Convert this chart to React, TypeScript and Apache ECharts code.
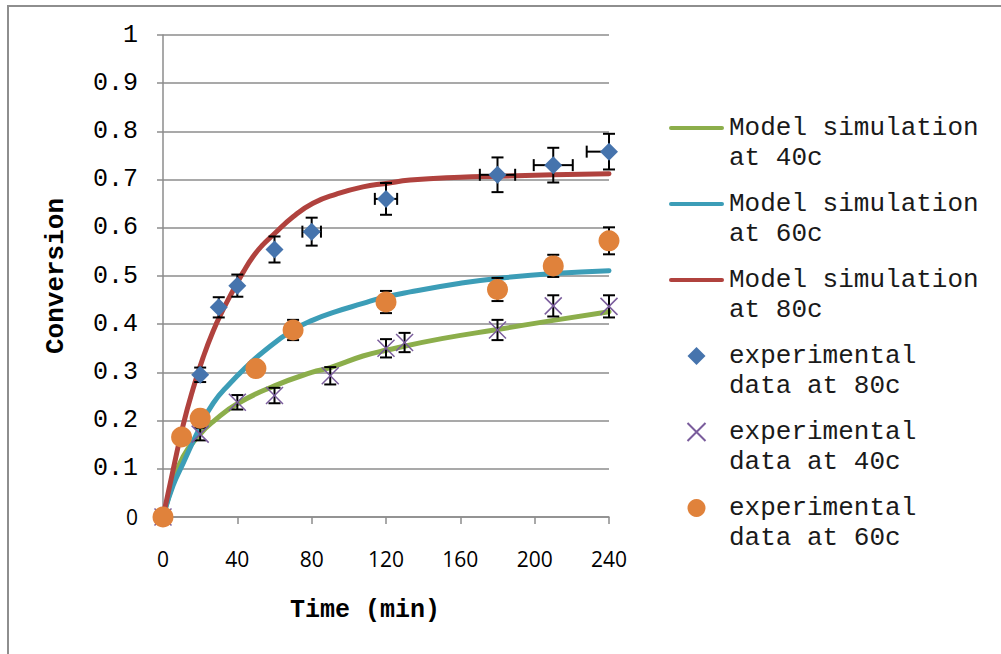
import React, { useEffect, useRef } from "react";
import * as echarts from "echarts";

// ---- Model curves ----
const modelT40 = [0, 5.4, 10.8, 20, 27, 40, 60, 80, 90, 107.6, 120, 150, 180, 210, 240];
const modelY40 = [0, 0.07, 0.125, 0.172, 0.198, 0.235, 0.272, 0.3, 0.31, 0.334, 0.346, 0.37, 0.389, 0.408, 0.426];

const modelT60 = [0, 5.4, 10.8, 20, 27, 36, 45, 54, 70, 81, 93, 107.6, 117, 133, 160, 180, 210, 240];
const modelY60 = [0, 0.065, 0.111, 0.187, 0.236, 0.277, 0.312, 0.343, 0.388, 0.409, 0.426, 0.443, 0.454, 0.467, 0.485, 0.495, 0.505, 0.511];

const modelT80 = [0, 5.4, 10.8, 16.1, 21.5, 26.9, 32.3, 37.7, 43, 48.4, 53.8, 59.2, 70, 80.7, 93.3, 107.6, 120, 133, 160, 180, 210, 240];
const modelY80 = [0, 0.097, 0.19, 0.265, 0.33, 0.385, 0.43, 0.47, 0.507, 0.54, 0.565, 0.585, 0.623, 0.651, 0.67, 0.685, 0.692, 0.699, 0.705, 0.707, 0.71, 0.712];

// ---- Experimental data ----
const expT80 = [0, 20, 30, 40, 60, 80, 120, 180, 210, 240];
const expY80 = [0, 0.295, 0.435, 0.48, 0.555, 0.592, 0.66, 0.71, 0.73, 0.758];
const errY80 = [0, 0.015, 0.021, 0.023, 0.027, 0.029, 0.033, 0.036, 0.036, 0.037];
const errXL80 = [0, 0, 0, 0, 0, 5, 6, 9.5, 10.5, 12];
const errXR80 = [0, 0, 0, 0, 0, 5, 6, 9.5, 10.5, 0];

const expT40 = [0, 20, 40, 60, 90, 120, 130, 180, 210, 240];
const expY40 = [0, 0.172, 0.238, 0.252, 0.293, 0.35, 0.362, 0.388, 0.438, 0.437];
const errY40 = [0, 0.013, 0.015, 0.016, 0.018, 0.019, 0.02, 0.021, 0.022, 0.023];

const expT60 = [0, 10, 20, 50, 70, 120, 180, 210, 240];
const expY60 = [0, 0.166, 0.205, 0.308, 0.388, 0.446, 0.472, 0.521, 0.573];
const errY60 = [0, 0.01, 0.012, 0.015, 0.021, 0.023, 0.024, 0.023, 0.028];

const yTicks = { min: 0, max: 1, interval: 0.1 };
const xTicks = { min: 0, max: 240, interval: 40 };

const names = [
  "Model simulation\nat 40c",
  "Model simulation\nat 60c",
  "Model simulation\nat 80c",
  "experimental\ndata at 80c",
  "experimental\ndata at 40c",
  "experimental\ndata at 60c",
];

const C_GREEN = "#8cae4b";
const C_BLUE = "#3c9db7";
const C_RED = "#b0423e";
const C_DIAMOND = "#4674ad";
const C_ORANGE = "#e0823b";
const C_PURPLE = "#7a5c9c";

const LINE_ICON = "path://M2,0L53,0A2,2 0 0 1 53,4L2,4A2,2 0 0 1 2,0Z";
const DIAMOND_ICON = "path://M5,0L10,5L5,10L0,5Z";
const X_SYMBOL = "path://M0,0L10,10M10,0L0,10";

const zip = (a: number[], b: number[]) => a.map((v, i) => [v, b[i]]);

const errData = (t: number[], y: number[], ey: number[], xl?: number[], xr?: number[]) =>
  t.map((v, i) => [v, y[i], ey[i], xl ? xl[i] : 0, xr ? xr[i] : 0]);

const renderErr = (params: any, api: any) => {
  const x = api.value(0);
  const y = api.value(1);
  const ye = api.value(2);
  const xl = api.value(3);
  const xr = api.value(4);
  const cap = 6;
  const style = { stroke: "#000", lineWidth: 2 };
  const children: any[] = [];
  const c = api.coord([x, y]);
  if (ye > 0) {
    const top = api.coord([x, y + ye]);
    const bot = api.coord([x, y - ye]);
    children.push({ type: "line", shape: { x1: top[0], y1: top[1], x2: bot[0], y2: bot[1] }, style });
    children.push({ type: "line", shape: { x1: top[0] - cap, y1: top[1], x2: top[0] + cap, y2: top[1] }, style });
    children.push({ type: "line", shape: { x1: bot[0] - cap, y1: bot[1], x2: bot[0] + cap, y2: bot[1] }, style });
  }
  if (xl > 0) {
    const l = api.coord([x - xl, y]);
    children.push({ type: "line", shape: { x1: l[0], y1: l[1], x2: c[0], y2: c[1] }, style });
    children.push({ type: "line", shape: { x1: l[0], y1: l[1] - cap, x2: l[0], y2: l[1] + cap }, style });
  }
  if (xr > 0) {
    const r = api.coord([x + xr, y]);
    children.push({ type: "line", shape: { x1: c[0], y1: c[1], x2: r[0], y2: r[1] }, style });
    children.push({ type: "line", shape: { x1: r[0], y1: r[1] - cap, x2: r[0], y2: r[1] + cap }, style });
  }
  return { type: "group", children };
};

const monoFont = "'Liberation Mono', 'DejaVu Sans Mono', monospace";

export default function App() {
  const ref = useRef<HTMLDivElement>(null);
  useEffect(() => {
    if (!ref.current) return;
    const chart = echarts.init(ref.current, undefined, { renderer: "svg" });
    const lineSeries = (name: string, t: number[], y: number[], color: string) => ({
      name,
      type: "line",
      data: zip(t, y),
      smooth: 0.5,
      symbol: "none",
      showSymbol: false,
      lineStyle: { color, width: 5, cap: "round", join: "round" },
      itemStyle: { color },
      z: 2,
    });
    const errSeries = (data: any[]) => ({
      type: "custom",
      renderItem: renderErr,
      data,
      encode: { x: 0, y: 1 },
      z: 3,
      silent: true,
    });
    chart.setOption({
      animation: false,
      grid: { left: 163, right: 392, top: 35, bottom: 137 },
      xAxis: {
        type: "value",
        min: xTicks.min,
        max: xTicks.max,
        interval: xTicks.interval,
        axisLine: { show: true, lineStyle: { color: "#8c8c8c", width: 1.5 } },
        axisTick: { show: true, inside: false, length: 7, lineStyle: { color: "#8c8c8c", width: 1.5 } },
        splitLine: { show: false },
        axisLabel: { fontFamily: "'Open Sans', sans-serif", fontSize: 21, color: "#000", margin: 31 },
      },
      yAxis: {
        type: "value",
        min: yTicks.min,
        max: yTicks.max,
        interval: yTicks.interval,
        axisLine: { show: true, lineStyle: { color: "#8c8c8c", width: 1.5 } },
        axisTick: { show: true, inside: false, length: 6, lineStyle: { color: "#8c8c8c", width: 1.5 } },
        splitLine: { show: true, lineStyle: { color: "#8c8c8c", width: 1.5 } },
        axisLabel: {
          fontFamily: monoFont,
          fontSize: 25,
          color: "#000",
          margin: 25,
          formatter: (v: number) => (v === 0 ? "{s|0}" : String(Math.round(v * 10) / 10)),
          rich: { s: { fontFamily: "'Open Sans', sans-serif", fontSize: 21, color: "#000" } },
        },
      },
      legend: {
        orient: "vertical",
        left: 664,
        top: 78,
        itemWidth: 55,
        itemHeight: 18,
        itemGap: -14,
        selectedMode: false,
        symbolKeepAspect: true,
        formatter: (name: string) => "\n" + name,
        data: [
          { name: names[0], icon: LINE_ICON, itemStyle: { color: C_GREEN } },
          { name: names[1], icon: LINE_ICON, itemStyle: { color: C_BLUE } },
          { name: names[2], icon: LINE_ICON, itemStyle: { color: C_RED } },
          { name: names[3], icon: DIAMOND_ICON, itemStyle: { color: C_DIAMOND } },
          { name: names[4] },
          { name: names[5], icon: "circle" },
        ],
        textStyle: {
          fontFamily: monoFont,
          fontSize: 26,
          lineHeight: 30,
          color: "#1a1a1a",
        },
      },
      graphic: [
        {
          type: "rect",
          shape: { x: 8, y: 6, width: 1000, height: 660 },
          style: { fill: "none", stroke: "#8e8e8e", lineWidth: 2 },
          silent: true,
        },
        {
          type: "text",
          x: 56,
          y: 276,
          rotation: Math.PI / 2,
          style: {
            text: "Conversion",
            fontFamily: monoFont,
            fontWeight: "bold",
            fontSize: 26,
            fill: "#000",
            align: "center",
            verticalAlign: "middle",
          },
        },
        {
          type: "text",
          x: 365,
          y: 610,
          style: {
            text: "Time (min)",
            fontFamily: monoFont,
            fontWeight: "bold",
            fontSize: 25,
            fill: "#000",
            align: "center",
            verticalAlign: "middle",
          },
        },
      ],
      series: [
        lineSeries(names[0], modelT40, modelY40, C_GREEN),
        lineSeries(names[1], modelT60, modelY60, C_BLUE),
        lineSeries(names[2], modelT80, modelY80, C_RED),
        errSeries(errData(expT80, expY80, errY80, errXL80, errXR80)),
        errSeries(errData(expT40, expY40, errY40)),
        errSeries(errData(expT60, expY60, errY60)),
        {
          name: names[3],
          type: "scatter",
          data: zip(expT80, expY80),
          symbol: "diamond",
          symbolSize: 18,
          itemStyle: { color: C_DIAMOND, opacity: 1 },
          z: 4,
        },
        {
          name: names[4],
          type: "scatter",
          data: zip(expT40, expY40),
          symbol: X_SYMBOL,
          symbolSize: 17,
          itemStyle: { color: "rgba(0,0,0,0)", borderColor: C_PURPLE, borderWidth: 1.5, opacity: 1 },
          z: 5,
        },
        {
          name: names[5],
          type: "scatter",
          data: zip(expT60, expY60),
          symbol: "circle",
          symbolSize: 21,
          itemStyle: { color: C_ORANGE, opacity: 1 },
          z: 6,
        },
      ],
    });
    return () => chart.dispose();
  }, []);
  return (
    <div
      ref={ref}
      style={{ position: "absolute", left: 0, top: 0, width: 1001, height: 654, background: "#fff" }}
    />
  );
}
